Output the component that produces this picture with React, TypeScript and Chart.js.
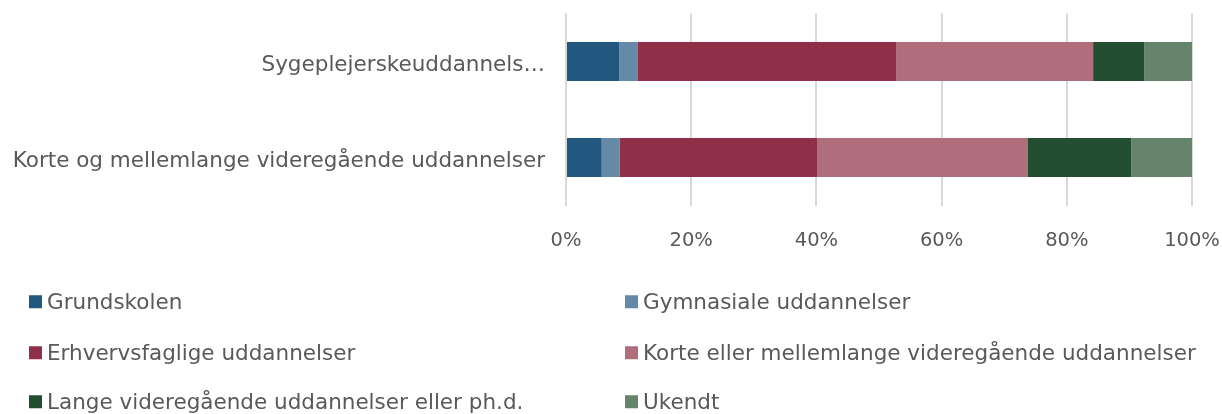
import React, { useEffect, useRef } from "react";
import { Chart, registerables } from "chart.js";

Chart.register(...registerables);

const categories = ["Sygeplejerskeuddannels…", "Korte og mellemlange videregående uddannelser"];
const seriesNames = [
  "Grundskolen",
  "Gymnasiale uddannelser",
  "Erhvervsfaglige uddannelser",
  "Korte eller mellemlange videregående uddannelser",
  "Lange videregående uddannelser eller ph.d.",
  "Ukendt",
];
const grundskolen = [8.5, 5.7];
const gymnasiale = [2.9, 2.9];
const erhvervsfaglige = [41.4, 31.5];
const korteMellemlange = [31.4, 33.6];
const lange = [8.2, 16.6];
const ukendt = [7.6, 9.7];
const seriesValues = [grundskolen, gymnasiale, erhvervsfaglige, korteMellemlange, lange, ukendt];
const colors = ["#22587F", "#6589A6", "#8F2F48", "#B06E7D", "#234E31", "#66846C"];
const xTickValues = [0, 20, 40, 60, 80, 100];

const FONT = "'DejaVu Sans', sans-serif";
const TEXT = "#595959";
const W = 1222;
const H = 414;
const LABEL_SIZE = 21.5;
const TICK_SIZE = 19.5;

export default function App() {
  const ref = useRef<HTMLCanvasElement | null>(null);

  useEffect(() => {
    if (!ref.current) return;
    Chart.defaults.font.family = FONT;
    const chart = new Chart(ref.current, {
      type: "bar",
      data: {
        labels: categories,
        datasets: seriesNames.map((name, i) => ({
          label: name,
          data: seriesValues[i],
          backgroundColor: colors[i],
          borderWidth: 0,
          barPercentage: 0.406,
          categoryPercentage: 1,
        })),
      },
      options: {
        indexAxis: "y",
        responsive: false,
        animation: false,
        layout: { padding: { left: 0, right: 30, top: 13.5, bottom: 0 } },
        plugins: {
          legend: { display: false },
          tooltip: { enabled: false },
        },
        scales: {
          x: {
            stacked: true,
            min: 0,
            max: 100,
            afterBuildTicks: (scale: any) => {
              scale.ticks = xTickValues.map((v) => ({ value: v }));
            },
            afterFit: (scale: any) => {
              scale.height = H - 205.5;
              scale.paddingLeft = 0;
              scale.paddingRight = 0;
            },
            grid: { color: "#D9D9D9", lineWidth: 2, drawTicks: false },
            border: { display: false },
            ticks: {
              padding: 24,
              color: TEXT,
              font: { size: TICK_SIZE, family: FONT },
              callback: (v: any) => v + "%",
              maxRotation: 0,
            },
          },
          y: {
            stacked: true,
            afterFit: (scale: any) => {
              scale.width = 566;
              scale.paddingTop = 0;
              scale.paddingBottom = 0;
            },
            grid: { display: false, drawTicks: false },
            border: { display: false },
            ticks: {
              padding: 21,
              labelOffset: 4,
              color: TEXT,
              font: { size: LABEL_SIZE, family: FONT },
            },
          },
        },
      },
    });
    return () => chart.destroy();
  }, []);

  const legendPos = [
    { left: 29, top: 302 },
    { left: 625, top: 302 },
    { left: 29, top: 353 },
    { left: 625, top: 353 },
    { left: 29, top: 402 },
    { left: 625, top: 402 },
  ];

  return (
    <div style={{ position: "absolute", left: 0, top: 0, width: W, height: H, background: "#fff" }}>
      <canvas ref={ref} width={W} height={H} style={{ position: "absolute", left: 0, top: 0 }} />
      {seriesNames.map((name, i) => (
        <div
          key={name}
          style={{
            position: "absolute",
            left: legendPos[i].left,
            top: legendPos[i].top,
            transform: "translateY(-50%)",
            display: "flex",
            alignItems: "center",
            fontFamily: FONT,
            fontSize: LABEL_SIZE,
            color: TEXT,
            whiteSpace: "nowrap",
            lineHeight: 1,
          }}
        >
          <span style={{ width: 13, height: 13, background: colors[i], display: "inline-block", marginRight: 5 }} />
          <span>{name}</span>
        </div>
      ))}
    </div>
  );
}
